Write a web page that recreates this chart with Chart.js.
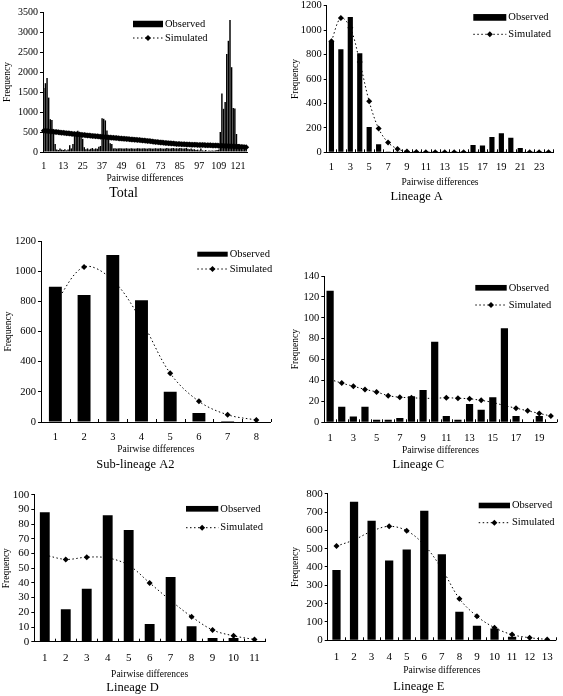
<!DOCTYPE html>
<html>
<head>
<meta charset="utf-8">
<script src="https://cdn.jsdelivr.net/npm/chart.js@4.4.1/dist/chart.umd.min.js"></script>
<style>
  html, body { margin: 0; padding: 0; background: #fff; }
  body { width: 563px; height: 696px; position: relative; overflow: hidden; }
  canvas { position: absolute; }
</style>
</head>
<body>
<canvas id="total"></canvas>
<canvas id="lineageA"></canvas>
<canvas id="subA2"></canvas>
<canvas id="lineageC"></canvas>
<canvas id="lineageD"></canvas>
<canvas id="lineageE"></canvas>
<script>
const FONT = '"Liberation Serif", "Times New Roman", serif';

// ---- data ----
const totalCategories = Array.from({ length: 126 }, (_, i) => String(i + 1));
const totalObserved = [
  1600, 1720, 1850, 1360, 820, 800, 450, 200, 60, 50,
  90, 60, 50, 70, 40, 60, 170, 90, 200, 400,
  480, 530, 470, 400, 330, 120, 70, 90, 60, 80,
  100, 70, 90, 80, 130, 150, 845, 830, 790, 540,
  380, 220, 200, 90, 95, 85, 90, 95, 90, 85,
  90, 95, 90, 85, 95, 90, 85, 90, 95, 90,
  85, 90, 95, 90, 85, 95, 90, 85, 90, 95,
  90, 85, 95, 90, 85, 90, 100, 90, 85, 95,
  100, 90, 95, 90, 100, 95, 85, 90, 100, 80,
  70, 90, 60, 70, 50, 60, 40, 90, 40, 30,
  50, 20, 40, 30, 40, 30, 40, 50, 60, 500,
  1460, 1080, 1250, 2450, 2780, 3300, 2120, 1100, 1090, 450,
  200, 100, 80, 60, 90, 110
];
const totalSimulated = [
  530, 527, 523, 519, 515, 511, 506, 502, 497, 493,
  488, 484, 479, 475, 470, 466, 461, 457, 452, 448,
  444, 440, 436, 431, 427, 423, 419, 415, 411, 407,
  403, 399, 395, 391, 387, 383, 379, 376, 372, 368,
  364, 361, 357, 354, 350, 347, 343, 340, 336, 333,
  329, 326, 322, 319, 315, 312, 308, 305, 301, 298,
  294, 290, 285, 281, 276, 272, 267, 262, 258, 253,
  249, 244, 240, 236, 232, 228, 224, 220, 217, 213,
  210, 206, 203, 200, 197, 195, 193, 191, 189, 187,
  185, 184, 182, 181, 179, 178, 176, 175, 174, 173,
  171, 170, 168, 167, 165, 164, 162, 161, 159, 158,
  156, 154, 152, 150, 148, 146, 144, 141, 139, 137,
  134, 131, 128, 125, 121, 118
];

const lineageACategories = ['1','2','3','4','5','6','7','8','9','10','11','12','13','14','15','16','17','18','19','20','21','22','23','24'];
const lineageAObserved = [911, 843, 1108, 810, 207, 65, 6, 3, 2, 1, 1, 1, 1, 1, 1, 60, 55, 125, 155, 120, 35, 3, 2, 2];
const lineageASimulated = [910, 1100, 1020, 740, 417, 194, 80, 28, 6, 2, 1, 0, 0, 0, 0, 0, 0, 0, 0, 0, 0, 0, 0, 0];

const subA2Categories = ['1','2','3','4','5','6','7','8'];
const subA2Observed = [897, 842, 1107, 807, 201, 60, 6, 0];
const subA2Simulated = [790, 1028, 940, 670, 323, 137, 48, 13];

const lineageCCategories = ['1','2','3','4','5','6','7','8','9','10','11','12','13','14','15','16','17','18','19','20'];
const lineageCObserved = [126, 15, 5.5, 15, 2.5, 2.5, 4, 25, 31, 77, 6, 2.5, 17.5, 12, 24, 90, 6, 0, 6, 0];
const lineageCSimulated = [41, 37.5, 34.5, 31.5, 29, 25.5, 24, 23.5, 23, 23, 23.5, 23, 22.5, 21, 19, 16, 13.5, 11, 8.5, 6];

const lineageDCategories = ['1','2','3','4','5','6','7','8','9','10','11'];
const lineageDObserved = [88, 22, 36, 86, 76, 12, 44, 10.5, 2.5, 2.5, 0];
const lineageDSimulated = [59, 56, 57.5, 57, 52, 40, 28, 17, 8, 4, 1.5];

const lineageECategories = ['1','2','3','4','5','6','7','8','9','10','11','12','13'];
const lineageEObserved = [384, 756, 653, 435, 495, 707, 469, 156, 80, 65, 20, 3, 0];
const lineageESimulated = [514, 548, 595, 622, 598, 520, 390, 227, 131, 69, 31, 14, 5];

// ---- plugins ----
function diamond(ctx, x, y, r) {
  ctx.beginPath();
  ctx.moveTo(x, y - r);
  ctx.lineTo(x + r, y);
  ctx.lineTo(x, y + r);
  ctx.lineTo(x - r, y);
  ctx.closePath();
  ctx.fill();
}

const insideLegend = {
  id: 'insideLegend',
  afterDraw(chart, args, opts) {
    const { ctx, chartArea } = chart;
    const ds = chart.data.datasets;
    const x0 = chartArea.left + opts.left;
    const y1 = chartArea.top + opts.top;
    const y2 = y1 + opts.gap;
    ctx.save();
    ctx.fillStyle = '#000';
    ctx.fillRect(x0, y1 - opts.h / 2, opts.w, opts.h);
    ctx.strokeStyle = '#000';
    ctx.lineWidth = 1;
    ctx.setLineDash([1.5, 2.5]);
    ctx.beginPath();
    ctx.moveTo(x0, y2);
    ctx.lineTo(x0 + opts.w, y2);
    ctx.stroke();
    ctx.setLineDash([]);
    diamond(ctx, x0 + opts.w / 2, y2, 3);
    ctx.font = opts.fontSize + 'px ' + FONT;
    ctx.textBaseline = 'middle';
    ctx.textAlign = 'left';
    ctx.fillText(ds[0].label, x0 + opts.w + 2, y1);
    ctx.fillText(ds[1].label, x0 + opts.w + 2, y2);
    ctx.restore();
  }
};

const boundaryTicks = {
  id: 'boundaryTicks',
  afterDatasetsDraw(chart, args, opts) {
    if (!opts.show) return;
    const { ctx } = chart;
    const x = chart.scales.x;
    const n = chart.data.labels.length;
    const step = (x.right - x.left) / n;
    ctx.save();
    ctx.strokeStyle = '#000';
    ctx.lineWidth = 1;
    ctx.beginPath();
    for (let i = 1; i <= n; i++) {
      const px = Math.round(x.left + i * step) + 0.5;
      ctx.moveTo(px, x.top);
      ctx.lineTo(px, x.top - 3);
    }
    ctx.stroke();
    ctx.restore();
  }
};

// ---- builder ----
function buildPanel(id, labels, observed, simulated, p) {
  const canvas = document.getElementById(id);
  const tickLh = p.tickSize * 1.2;
  const axisLh = 9.5 * 1.2;
  const titleLh = p.titleSize * 1.2;
  const xh = p.xTitleY + axisLh / 2 - p.plotB;
  const titlePad = p.titleY - (p.plotB + xh) - titleLh / 2;
  const height = Math.ceil(p.plotB + xh + titlePad + titleLh + 2 - p.top);
  const padBottom = p.top + height - (p.plotB + xh + titlePad + titleLh);
  canvas.width = p.width;
  canvas.height = height;
  canvas.style.left = p.left + 'px';
  canvas.style.top = p.top + 'px';
  const yw = p.plotL - p.left;

  new Chart(canvas, {
    data: {
      labels: labels,
      datasets: [
        {
          type: 'bar',
          label: 'Observed',
          data: observed,
          backgroundColor: '#000',
          borderWidth: 0,
          barPercentage: p.barPct,
          categoryPercentage: 1,
          order: 0
        },
        {
          type: 'line',
          label: 'Simulated',
          data: simulated,
          borderColor: '#000',
          borderWidth: 1,
          borderDash: [1.5, 2.5],
          tension: 0.35,
          fill: false,
          pointStyle: 'rectRot',
          pointRadius: p.pointR,
          pointBackgroundColor: '#000',
          pointBorderWidth: 0,
          order: 1
        }
      ]
    },
    options: {
      responsive: false,
      animation: false,
      layout: {
        padding: { left: 0, right: p.left + p.width - p.plotR, top: p.plotT - p.top, bottom: padBottom }
      },
      scales: {
        x: {
          offset: true,
          grid: { display: false, drawTicks: false, offset: true },
          border: { display: true, color: '#000', width: 1 },
          ticks: {
            autoSkip: false,
            maxRotation: 0,
            padding: p.xTickY - p.plotB - tickLh / 2,
            color: '#000',
            font: { family: FONT, size: p.tickSize },
            callback: (v, i) => (i % p.every === 0 ? labels[i] : '')
          },
          title: {
            display: true,
            text: 'Pairwise differences',
            color: '#000',
            font: { family: FONT, size: 9.5 },
            padding: { top: 0, bottom: 0 }
          },
          afterFit: s => { s.height = xh; }
        },
        y: {
          min: 0,
          max: p.yMax,
          grid: { drawOnChartArea: false, drawTicks: true, tickLength: 3, color: '#000' },
          border: { display: true, color: '#000', width: 1 },
          ticks: {
            stepSize: p.yStep,
            autoSkip: false,
            padding: 2,
            color: '#000',
            font: { family: FONT, size: p.tickSize },
            callback: v => String(v)
          },
          title: {
            display: true,
            text: 'Frequency',
            color: '#000',
            font: { family: FONT, size: 9.5 },
            padding: { top: p.yTitleX - p.left - axisLh / 2, bottom: 0 }
          },
          afterFit: s => { s.width = yw; }
        }
      },
      plugins: {
        legend: { display: false },
        tooltip: { enabled: false },
        title: {
          display: true,
          position: 'bottom',
          text: p.title,
          color: '#000',
          font: { family: FONT, size: p.titleSize, weight: 'normal' },
          padding: { top: titlePad, bottom: 0 }
        },
        insideLegend: p.legend,
        boundaryTicks: { show: p.boundaryTicks }
      }
    },
    plugins: [insideLegend, boundaryTicks]
  });
}

buildPanel('total', totalCategories, totalObserved, totalSimulated, {
  title: 'Total', left: 0, top: 0, width: 280,
  plotL: 43, plotR: 247, plotT: 12, plotB: 152,
  yTitleX: 7, xTickY: 166, xTitleY: 178, titleY: 193,
  tickSize: 10, titleSize: 14, yMax: 3500, yStep: 500, every: 12,
  barPct: 0.9, pointR: 3, boundaryTicks: false,
  legend: { left: 90, top: 12, gap: 14, w: 30, h: 6.5, fontSize: 10.5 }
});

buildPanel('lineageA', lineageACategories, lineageAObserved, lineageASimulated, {
  title: 'Lineage A', left: 280, top: -4, width: 283,
  plotL: 326.7, plotR: 553.3, plotT: 5.7, plotB: 152.3,
  yTitleX: 295, xTickY: 167.3, xTitleY: 182, titleY: 196.7,
  tickSize: 10.5, titleSize: 12.5, yMax: 1200, yStep: 200, every: 2,
  barPct: 0.55, pointR: 3, boundaryTicks: true,
  legend: { left: 146.6, top: 11.7, gap: 16.9, w: 33, h: 6.7, fontSize: 10.5 }
});

buildPanel('subA2', subA2Categories, subA2Observed, subA2Simulated, {
  title: 'Sub-lineage A2', left: 0, top: 228, width: 280,
  plotL: 41, plotR: 270.7, plotT: 241, plotB: 422,
  yTitleX: 8.3, xTickY: 437.7, xTitleY: 449.3, titleY: 465,
  tickSize: 10.5, titleSize: 12.5, yMax: 1200, yStep: 200, every: 1,
  barPct: 0.45, pointR: 3, boundaryTicks: true,
  legend: { left: 156.3, top: 13.2, gap: 14.8, w: 30.4, h: 5, fontSize: 10.5 }
});

buildPanel('lineageC', lineageCCategories, lineageCObserved, lineageCSimulated, {
  title: 'Lineage C', left: 280, top: 228, width: 283,
  plotL: 324.3, plotR: 556.7, plotT: 276, plotB: 422.3,
  yTitleX: 295, xTickY: 438.3, xTitleY: 450.3, titleY: 464.5,
  tickSize: 10.5, titleSize: 12.5, yMax: 140, yStep: 20, every: 2,
  barPct: 0.62, pointR: 3, boundaryTicks: true,
  legend: { left: 151, top: 11.8, gap: 17.2, w: 31.4, h: 5.7, fontSize: 10.5 }
});

buildPanel('lineageD', lineageDCategories, lineageDObserved, lineageDSimulated, {
  title: 'Lineage D', left: 0, top: 474, width: 280,
  plotL: 34.3, plotR: 265, plotT: 494.7, plotB: 641.7,
  yTitleX: 6, xTickY: 658.3, xTitleY: 674.3, titleY: 687.7,
  tickSize: 11, titleSize: 12.5, yMax: 100, yStep: 10, every: 1,
  barPct: 0.47, pointR: 3, boundaryTicks: true,
  legend: { left: 151.7, top: 14.1, gap: 18.9, w: 32.3, h: 5.7, fontSize: 10.5 }
});

buildPanel('lineageE', lineageECategories, lineageEObserved, lineageESimulated, {
  title: 'Lineage E', left: 280, top: 474, width: 283,
  plotL: 327.7, plotR: 557.7, plotT: 493.7, plotB: 640.3,
  yTitleX: 295, xTickY: 657, xTitleY: 670.7, titleY: 686.7,
  tickSize: 11, titleSize: 12.5, yMax: 800, yStep: 100, every: 1,
  barPct: 0.47, pointR: 3, boundaryTicks: true,
  legend: { left: 151, top: 11.8, gap: 17.2, w: 31.3, h: 5.6, fontSize: 10.5 }
});
</script>
</body>
</html>
